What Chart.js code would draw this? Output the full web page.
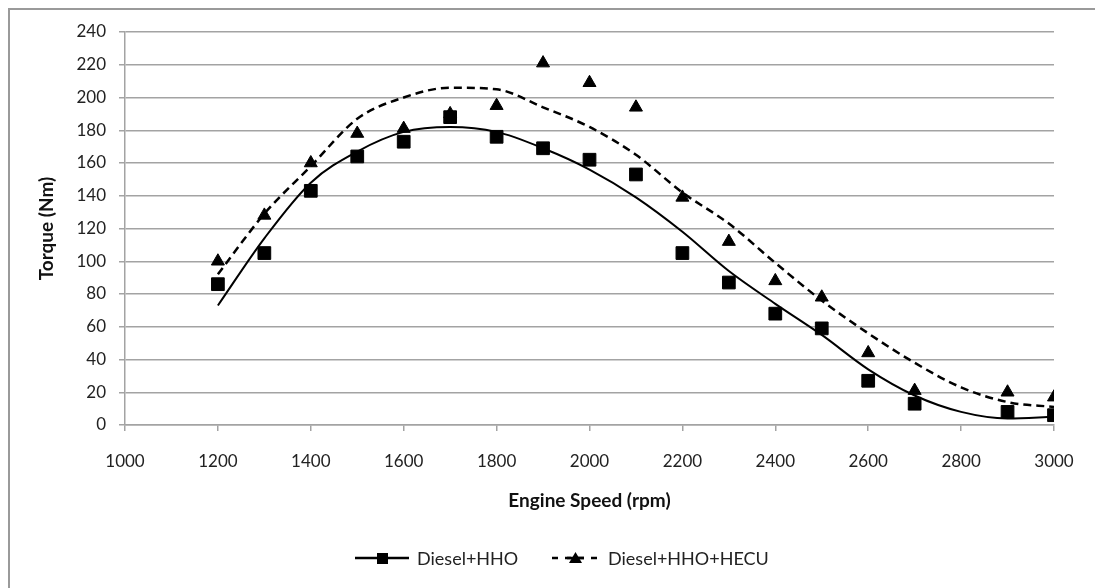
<!DOCTYPE html>
<html>
<head>
<meta charset="utf-8">
<script src="https://cdn.jsdelivr.net/npm/chart.js@4.4.0/dist/chart.umd.min.js"></script>
<style>
  html, body { margin: 0; padding: 0; background: #fff; }
  #wrap { width: 1095px; height: 588px; position: relative; }
</style>
</head>
<body>
<div id="wrap"><canvas id="myChart"></canvas></div>
<script>
// measured points
const speeds = [1200, 1300, 1400, 1500, 1600, 1700, 1800, 1900, 2000, 2100, 2200, 2300, 2400, 2500, 2600, 2700, 2900, 3000]
const hho = [86, 105, 143, 164, 173, 188, 176, 169, 162, 153, 105, 87, 68, 59, 27, 13, 8, 6]
const hecu = [100, 128, 160, 178, 181, 190, 195, 221, 209, 194, 139, 112, 88, 78, 44, 21, 20, 17]
// trend lines
const trendSpeeds = [1200, 1300, 1400, 1500, 1600, 1700, 1800, 1900, 2000, 2100, 2200, 2300, 2400, 2500, 2600, 2700, 2800, 2900, 3000]
const hhoTrend = [73, 114, 148, 167, 179, 182, 179, 169, 156, 139, 118, 94, 74, 55, 34, 18, 8, 4, 5]
const hecuTrend = [92, 129, 158, 187, 200, 206, 205, 194, 182, 165, 142, 123, 99, 76, 56, 38, 23, 14, 11]
const labels = ['Diesel+HHO', 'Diesel+HHO+HECU']

function pts(xs, ys) {
    let out = []
    for (let i in xs) out.push({x: xs[i], y: ys[i]})
    return out
}

const font = 'Lato'
const grey = '#a3a3a3'

// outer frame + legend with line and marker
const extras = {
    id: 'extras',
    beforeDraw(chart) {
        const c = chart.ctx
        c.save()
        c.strokeStyle = '#9a9a9a'
        c.lineWidth = 2
        c.strokeRect(9, 9, 1200, 700)
        c.restore()
    },
    afterDraw(chart) {
        const c = chart.ctx
        const y = 558
        c.save()
        c.fillStyle = '#000'
        c.strokeStyle = '#000'
        c.lineWidth = 2.5
        // item 1
        c.beginPath(); c.moveTo(355, y); c.lineTo(409, y); c.stroke()
        c.fillRect(377, y - 5, 11, 11)
        // item 2
        c.setLineDash([6, 7])
        c.beginPath(); c.moveTo(552, y); c.lineTo(600, y); c.stroke()
        c.setLineDash([])
        c.beginPath(); c.moveTo(567, y); c.lineTo(584, y); c.stroke()
        c.beginPath(); c.moveTo(575.5, y - 6); c.lineTo(582, y + 5); c.lineTo(569, y + 5); c.closePath(); c.fill()
        c.font = '18px ' + font
        c.textBaseline = 'middle'
        c.fillStyle = '#222'
        c.fillText(chart.data.datasets[0].label, 417, y + 1)
        c.fillText(chart.data.datasets[1].label, 608, y + 1)
        c.restore()
    }
}

const ctx = document.getElementById('myChart').getContext('2d')
const myChart = new Chart(ctx, {
    type: 'scatter',
    data: {
        datasets: [{
            label: labels[0],
            data: pts(trendSpeeds, hhoTrend),
            showLine: true,
            borderColor: '#000',
            borderWidth: 2,
            pointRadius: 0,
            cubicInterpolationMode: 'monotone'
        }, {
            label: labels[1],
            data: pts(trendSpeeds, hecuTrend),
            showLine: true,
            borderColor: '#000',
            borderWidth: 2.5,
            borderDash: [8, 5],
            pointRadius: 0,
            cubicInterpolationMode: 'monotone'
        }, {
            label: labels[0] + ' data',
            data: pts(speeds, hho),
            pointStyle: 'rect',
            pointRadius: 9,
            borderWidth: 1,
            backgroundColor: '#000',
            borderColor: '#000'
        }, {
            label: labels[1] + ' data',
            data: pts(speeds, hecu),
            pointStyle: 'triangle',
            pointRadius: 7.5,
            borderWidth: 1,
            backgroundColor: '#000',
            borderColor: '#000'
        }]
    },
    options: {
        responsive: true,
        maintainAspectRatio: false,
        animation: false,
        layout: {padding: {top: 32, right: 41, bottom: 63, left: 0}},
        plugins: {legend: {display: false}, tooltip: {enabled: false}},
        scales: {
            x: {
                type: 'linear',
                min: 1000, max: 3000,
                afterFit: function(s) { s.height = 100 },
                ticks: {stepSize: 200, padding: 20, color: '#222', font: {family: font, size: 17},
                    callback: function(v) { return String(v) }},
                grid: {drawOnChartArea: false, drawTicks: true, tickLength: 6, color: grey, lineWidth: 1.5},
                border: {color: grey, width: 1.5},
                title: {display: true, text: 'Engine Speed (rpm)', color: '#111', padding: {top: 0, bottom: 12.6}, font: {family: font, size: 19, weight: 'bold'}}
            },
            y: {
                min: 0, max: 240,
                afterFit: function(s) { s.width = 125 },
                ticks: {stepSize: 20, padding: 13, color: '#222', font: {family: font, size: 17}},
                grid: {color: grey, lineWidth: 1.5, tickLength: 6},
                border: {color: grey, width: 1.5},
                title: {display: true, text: 'Torque (Nm)', color: '#111', padding: {top: 35.6, bottom: 0}, font: {family: font, size: 19, weight: 'bold'}}
            }
        }
    },
    plugins: [extras]
})
</script>
</body>
</html>
